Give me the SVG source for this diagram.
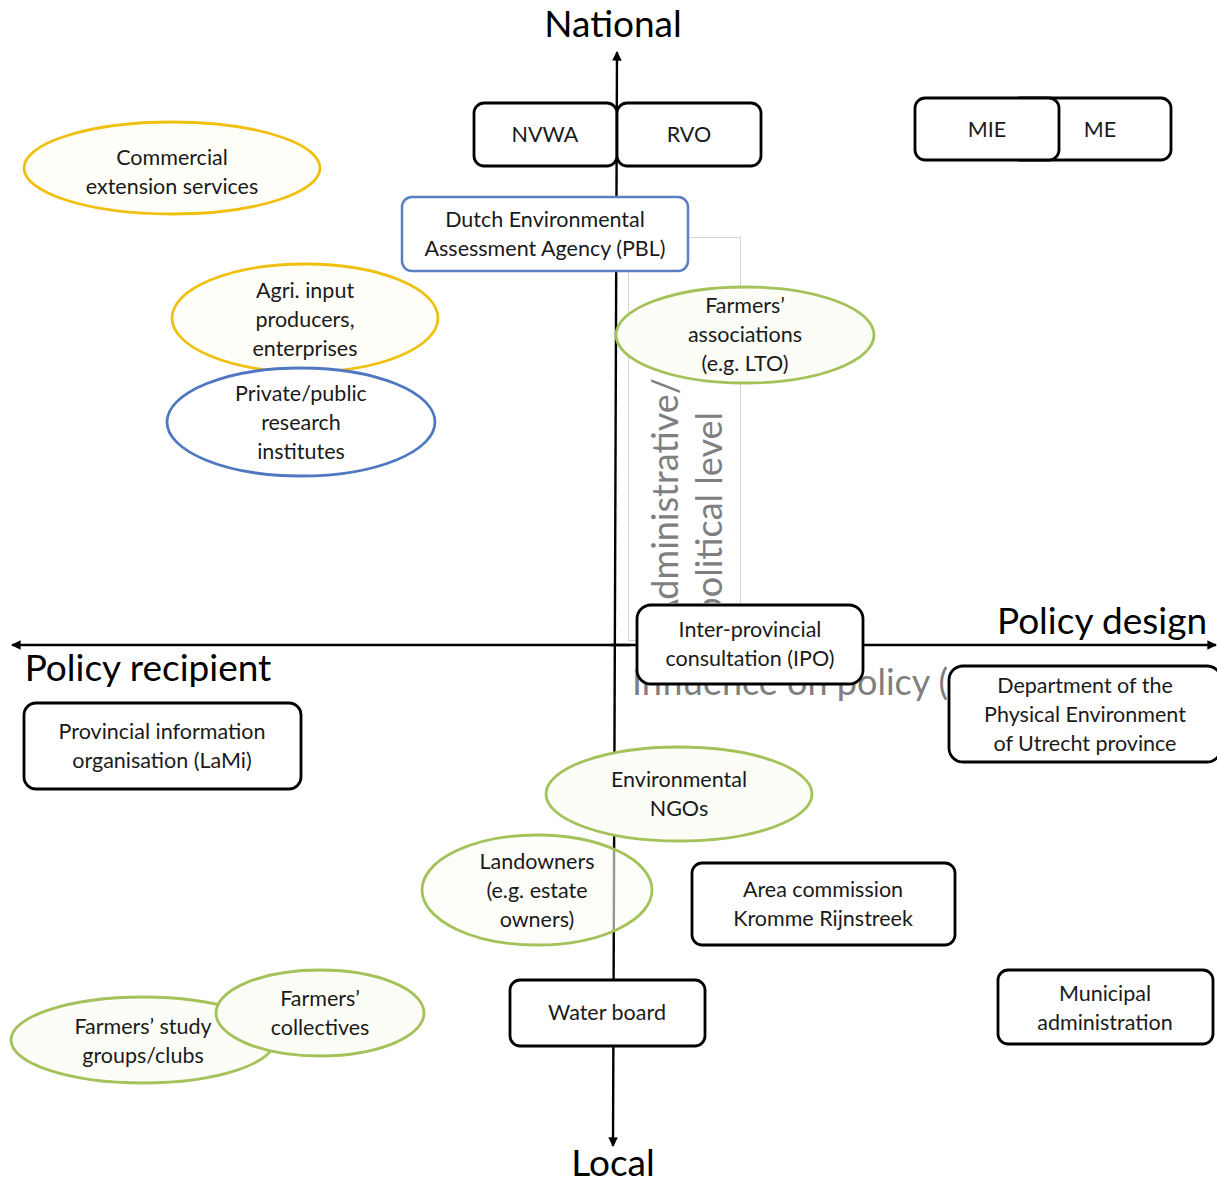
<svg xmlns="http://www.w3.org/2000/svg" width="1217" height="1185" viewBox="0 0 1217 1185">
<style>
  text { font-family: Lato, "Open Sans", "Liberation Sans", sans-serif; fill: #1a1a1a; }
  .t { font-size: 21.5px; text-anchor: middle; }
  .big { font-size: 37px; fill: #000; }
  .gray { font-size: 36px; fill: #7f7f7f; }
  .box { fill: #fff; stroke: #000; stroke-width: 2.8; }
  .pbl { fill: #fff; stroke: #5a7fc2; stroke-width: 2.5; }
  .gold { fill: #fffef8; stroke: #f0c010; stroke-width: 2.8; }
  .green { fill: #fcfdf7; stroke: #a3c25a; stroke-width: 2.8; }
  .blue { fill: #fff; stroke: #4f78c0; stroke-width: 2.8; }
  .axis { stroke: #000; stroke-width: 2.4; fill: none; }
</style>
<defs>
  <marker id="arr" viewBox="0 0 10 10" refX="9" refY="5" markerWidth="4" markerHeight="4" orient="auto" markerUnits="strokeWidth">
    <path d="M0,0 L10,5 L0,10 z" fill="#000"/>
  </marker>
  <clipPath id="vclip"><rect x="628" y="237" width="113" height="366"/></clipPath>
  <clipPath id="hclip"><rect x="630" y="650" width="320" height="60"/></clipPath>
</defs>
<rect width="1217" height="1185" fill="#fff"/>

<g id="labels">
  <rect x="628.5" y="237.5" width="112" height="403" fill="none" stroke="#d4d4d4" stroke-width="1"/>
  <g clip-path="url(#vclip)">
    <text class="gray" transform="translate(678,378) rotate(-90)" text-anchor="end">Administrative/</text>
    <text class="gray" transform="translate(722,412) rotate(-90)" text-anchor="end">political level</text>
  </g>
  <g clip-path="url(#hclip)">
    <text class="gray" x="632" y="695">Influence on policy (</text>
  </g>
</g>

<g id="connectors">
  <line class="axis" x1="613" y1="1146" x2="617" y2="52" marker-end="url(#arr)"/>
  <line class="axis" x1="617" y1="645" x2="613" y2="1146" marker-end="url(#arr)" stroke-opacity="0"/>
  <line class="axis" x1="630" y1="645" x2="12" y2="645" marker-end="url(#arr)"/>
  <line class="axis" x1="610" y1="645" x2="1216" y2="645" marker-end="url(#arr)"/>
</g>

<g id="axis-titles">
  <text class="big" x="613" y="37" text-anchor="middle">National</text>
  <text class="big" x="613" y="1176" text-anchor="middle">Local</text>
  <text class="big" x="1102" y="634" text-anchor="middle">Policy design</text>
  <text class="big" x="148" y="681" text-anchor="middle">Policy recipient</text>
</g>

<g id="nvwa"><rect class="box" x="474" y="103" width="143" height="63" rx="10"/><text class="t" x="545" y="142">NVWA</text></g>
<g id="rvo"><rect class="box" x="617" y="103" width="144" height="63" rx="10"/><text class="t" x="689" y="142">RVO</text></g>
<g id="me"><rect class="box" x="1010" y="98" width="161" height="62" rx="10"/><text class="t" x="1100" y="137">ME</text></g>
<g id="mie"><rect class="box" x="915" y="98" width="144" height="62" rx="10"/><text class="t" x="987" y="137">MIE</text></g>

<g id="commercial"><ellipse class="gold" cx="172" cy="168" rx="148" ry="46"/><text class="t" x="172" y="165">Commercial</text><text class="t" x="172" y="194">extension services</text></g>

<g id="pbl"><rect class="pbl" x="402" y="197" width="286" height="74" rx="10"/><text class="t" x="545" y="227">Dutch Environmental</text><text class="t" x="545" y="256">Assessment Agency (PBL)</text></g>

<g id="agri"><ellipse class="gold" cx="305" cy="318" rx="133" ry="54"/><text class="t" x="305" y="298">Agri. input</text><text class="t" x="305" y="327">producers,</text><text class="t" x="305" y="356">enterprises</text></g>

<g id="research"><ellipse class="blue" cx="301" cy="422" rx="134" ry="54"/><text class="t" x="301" y="401">Private/public</text><text class="t" x="301" y="430">research</text><text class="t" x="301" y="459">institutes</text></g>

<g id="lto"><ellipse class="green" cx="745" cy="335" rx="129" ry="48"/><text class="t" x="745" y="313">Farmers’</text><text class="t" x="745" y="342">associations</text><text class="t" x="745" y="371">(e.g. LTO)</text></g>

<g id="ipo"><rect class="box" x="637" y="605" width="226" height="79" rx="14"/><text class="t" x="750" y="637">Inter-provincial</text><text class="t" x="750" y="666">consultation (IPO)</text></g>

<g id="utrecht"><rect class="box" x="949" y="666" width="272" height="96" rx="14"/><text class="t" x="1085" y="693">Department of the</text><text class="t" x="1085" y="722">Physical Environment</text><text class="t" x="1085" y="751">of Utrecht province</text></g>

<g id="lami"><rect class="box" x="24" y="703" width="277" height="86" rx="12"/><text class="t" x="162" y="739">Provincial information</text><text class="t" x="162" y="768">organisation (LaMi)</text></g>

<g id="ngos"><ellipse class="green" cx="679" cy="794" rx="133" ry="47"/><text class="t" x="679" y="787">Environmental</text><text class="t" x="679" y="816">NGOs</text></g>

<g id="landowners"><ellipse class="green" cx="537" cy="890" rx="115" ry="55" style="fill-opacity:0.6"/><text class="t" x="537" y="869">Landowners</text><text class="t" x="537" y="898">(e.g. estate</text><text class="t" x="537" y="927">owners)</text></g>

<g id="area"><rect class="box" x="692" y="863" width="263" height="82" rx="10"/><text class="t" x="823" y="897">Area commission</text><text class="t" x="823" y="926">Kromme Rijnstreek</text></g>

<g id="waterboard"><rect class="box" x="510" y="980" width="195" height="66" rx="10"/><text class="t" x="607" y="1020">Water board</text></g>

<g id="municipal"><rect class="box" x="998" y="970" width="215" height="74" rx="10"/><text class="t" x="1105" y="1001">Municipal</text><text class="t" x="1105" y="1030">administration</text></g>

<g id="studygroups"><ellipse class="green" cx="143" cy="1040" rx="132" ry="43"/><text class="t" x="143" y="1034">Farmers’ study</text><text class="t" x="143" y="1063">groups/clubs</text></g>

<g id="collectives"><ellipse class="green" cx="320" cy="1013" rx="104" ry="43"/><text class="t" x="320" y="1006">Farmers’</text><text class="t" x="320" y="1035">collectives</text></g>
</svg>
